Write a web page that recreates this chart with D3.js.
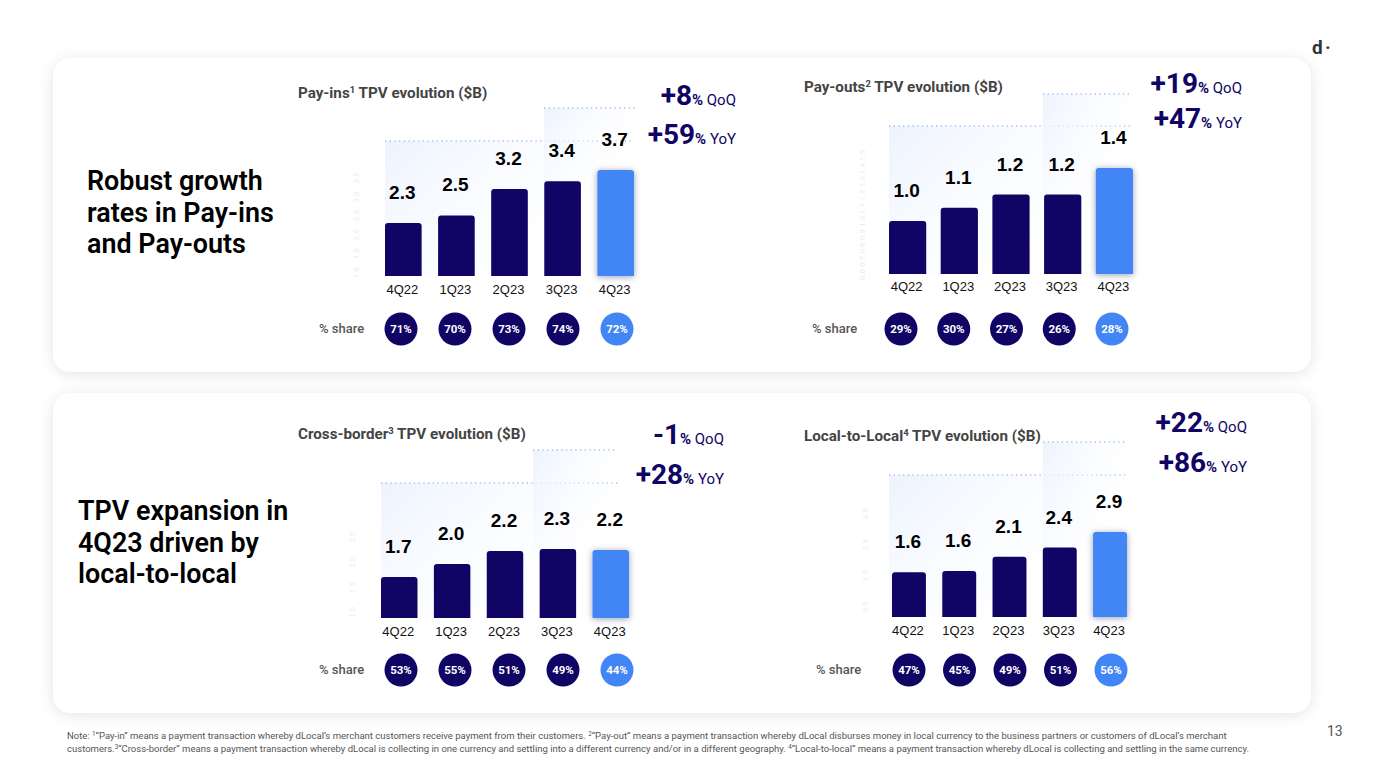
<!DOCTYPE html>
<html>
<head>
<meta charset="utf-8">
<script src="https://cdn.jsdelivr.net/npm/d3@7"></script>
<style>
  html, body { margin: 0; padding: 0; background: #fff; }
  svg { display: block; }
  text { font-family: Roboto, sans-serif; }
</style>
</head>
<body>
<svg width="1374" height="771"></svg>
<script>
const quarters = ["4Q22", "1Q23", "2Q23", "3Q23", "4Q23"];

// Bar values. Labels round them to one decimal
const payInsValues = [2.3, 2.5, 3.2, 3.4, 3.7];
const payOutsValues = [1.0, 1.1, 1.2, 1.2, 1.4];
const crossBorderValues = [1.70, 1.96, 2.22, 2.26, 2.24];
const localValues = [1.60, 1.64, 2.10, 2.40, 2.90];

const payInsShare = [71, 70, 73, 74, 72];
const payOutsShare = [29, 30, 27, 26, 28];
const crossBorderShare = [53, 55, 51, 49, 44];
const localShare = [47, 45, 49, 51, 56];

const payInsGrowth = ["+8", "+59"];
const payOutsGrowth = ["+19", "+47"];
const crossBorderGrowth = ["-1", "+28"];
const localGrowth = ["+22", "+86"];
const growthNames = ["QoQ", "YoY"];

// Faint axis ticks behind each chart
const payInsTicks = [1, 1.5, 2, 2.5, 3, 3.5];
const payOutsTicks = [0.6, 0.7, 0.8, 0.9, 1.0, 1.1, 1.2, 1.3, 1.4, 1.5];
const crossBorderTicks = [1.0, 1.5, 2.0, 2.5];
const localTicks = [0.5, 1.5, 2.5, 3.5];

const navy = "#100565";
const blue = "#4285f4";

const svg = d3.select("svg");
const defs = svg.append("defs");

const cardShadow = defs.append("filter").attr("id", "cardShadow")
    .attr("x", "-5%").attr("y", "-10%").attr("width", "110%").attr("height", "120%");
cardShadow.append("feDropShadow").attr("dx", 0).attr("dy", 2).attr("stdDeviation", 7)
    .attr("flood-color", "#000").attr("flood-opacity", 0.11);

const barShadow = defs.append("filter").attr("id", "barShadow")
    .attr("x", "-40%").attr("y", "-20%").attr("width", "180%").attr("height", "140%");
barShadow.append("feDropShadow").attr("dx", 0).attr("dy", 1).attr("stdDeviation", 3)
    .attr("flood-color", "#0d1b50").attr("flood-opacity", 0.4);

const fade = defs.append("linearGradient").attr("id", "fade")
    .attr("x1", 0).attr("y1", 0).attr("x2", 1).attr("y2", 0.6);
fade.append("stop").attr("offset", "0%").attr("stop-color", "#edf3fe");
fade.append("stop").attr("offset", "100%").attr("stop-color", "#ffffff").attr("stop-opacity", 0);

// White cards
svg.selectAll(".card")
    .data([[58, 314], [393, 320]])
    .enter().append("rect")
    .attr("class", "card")
    .attr("x", 53).attr("y", d => d[0])
    .attr("width", 1258).attr("height", d => d[1])
    .attr("rx", 18)
    .attr("fill", "#fff")
    .attr("filter", "url(#cardShadow)");

function drawPanel(p) {
    const g = svg.append("g");

    const x = d3.scaleBand().domain(quarters).range(p.xRange).paddingInner(p.inner);
    const y = d3.scaleLinear().domain(p.yDomain).range(p.yRange);
    const shareX = d3.scalePoint().domain(quarters).range(p.shareRange);

    // Shaded growth brackets with their dotted top lines
    p.brackets.forEach(b => {
        g.append("rect")
            .attr("x", b.x0).attr("y", b.y0)
            .attr("width", b.x1 - b.x0).attr("height", b.y1 - b.y0)
            .attr("fill", "url(#fade)");
        g.append("line")
            .attr("x1", b.x0).attr("x2", b.x1)
            .attr("y1", b.y0).attr("y2", b.y0)
            .attr("stroke", "#9fc0f0")
            .attr("stroke-width", 1.3)
            .attr("stroke-dasharray", "1.3 3.4");
    });

    // Nearly invisible y axis
    const axis = g.append("g")
        .attr("transform", `translate(${p.axisX},0)`)
        .call(d3.axisLeft(y).tickValues(p.ticks).tickSize(0).tickFormat(d3.format(".1f")));
    axis.select(".domain").remove();
    axis.selectAll("text")
        .attr("x", 0).attr("y", 0).attr("dy", "0.32em")
        .attr("text-anchor", "middle")
        .attr("transform", "rotate(-90)")
        .attr("fill", "#ececec")
        .style("font-size", "8px");

    // Bars, only the top corners are rounded
    const base = p.yRange[0];
    g.selectAll(".bar")
        .data(p.values)
        .enter().append("path")
        .attr("class", "bar")
        .attr("d", (d, i) => {
            const x0 = x(quarters[i]), w = x.bandwidth(), t = y(d), r = 3;
            return `M${x0},${base}V${t + r}Q${x0},${t} ${x0 + r},${t}H${x0 + w - r}Q${x0 + w},${t} ${x0 + w},${t + r}V${base}Z`;
        })
        .attr("fill", (d, i) => i === 4 ? blue : navy)
        .attr("filter", (d, i) => i === 4 ? "url(#barShadow)" : null);

    g.selectAll(".value")
        .data(p.values)
        .enter().append("text")
        .attr("class", "value")
        .attr("x", (d, i) => x(quarters[i]) + x.bandwidth() / 2 - 1)
        .attr("y", d => y(d) - 24)
        .attr("text-anchor", "middle")
        .style("font-family", "'Liberation Sans', Arial, sans-serif")
        .style("font-weight", 700)
        .style("font-size", "19px")
        .attr("fill", "#000")
        .text(d => d3.format(".1f")(d));

    g.selectAll(".quarter")
        .data(quarters)
        .enter().append("text")
        .attr("class", "quarter")
        .attr("x", d => x(d) + x.bandwidth() / 2 - 1)
        .attr("y", p.quarterY)
        .attr("text-anchor", "middle")
        .style("font-family", "'Liberation Sans', Arial, sans-serif")
        .style("font-size", "13px")
        .attr("fill", "#111")
        .text(d => d);

    // Title with footnote mark
    const title = g.append("text")
        .attr("x", p.titleX).attr("y", p.titleY)
        .style("font-size", "15.2px").style("font-weight", 700)
        .attr("fill", "#444");
    title.append("tspan").text(p.title);
    title.append("tspan").attr("dy", -5).style("font-size", "9.5px").text(p.mark);
    title.append("tspan").attr("dy", 5).text(" TPV evolution ($B)");

    // Share row
    g.append("text")
        .attr("x", p.shareLabelX).attr("y", p.shareY + 4)
        .style("font-size", "13px").style("font-weight", 500)
        .attr("fill", "#555")
        .text("% share");

    g.selectAll(".shareDot")
        .data(p.share)
        .enter().append("circle")
        .attr("class", "shareDot")
        .attr("cx", (d, i) => shareX(quarters[i]))
        .attr("cy", p.shareY)
        .attr("r", 16.5)
        .attr("fill", (d, i) => i === 4 ? blue : navy);

    g.selectAll(".shareText")
        .data(p.share)
        .enter().append("text")
        .attr("class", "shareText")
        .attr("x", (d, i) => shareX(quarters[i]))
        .attr("y", p.shareY + 4)
        .attr("text-anchor", "middle")
        .style("font-size", "11.5px").style("font-weight", 700)
        .attr("fill", "#fff")
        .text(d => d + "%");

    // QoQ and YoY callouts
    p.growth.forEach((v, i) => {
        const t = g.append("text")
            .attr("x", p.growthX).attr("y", p.growthY[i])
            .attr("text-anchor", "end")
            .attr("fill", navy);
        t.append("tspan").style("font-size", "28px").style("font-weight", 700).text(v);
        t.append("tspan").style("font-size", "15px").style("font-weight", 700).text("%");
        t.append("tspan").style("font-size", "15px").text(" " + growthNames[i]);
    });
}

drawPanel({
    title: "Pay-ins", mark: "1", titleX: 298, titleY: 98,
    values: payInsValues, share: payInsShare, growth: payInsGrowth, ticks: payInsTicks,
    xRange: [385, 634], inner: 0.31, yDomain: [0.9, 3.7], yRange: [276, 170],
    shareRange: [401, 617], shareY: 329, shareLabelX: 319,
    quarterY: 294, axisX: 356, growthX: 736, growthY: [105, 144],
    brackets: [{x0: 385, x1: 632, y0: 141, y1: 276}, {x0: 544, x1: 638, y0: 108, y1: 181}]
});

drawPanel({
    title: "Pay-outs", mark: "2", titleX: 804, titleY: 92,
    values: payOutsValues, share: payOutsShare, growth: payOutsGrowth, ticks: payOutsTicks,
    xRange: [889, 1133], inner: 0.28, yDomain: [0.6, 1.4], yRange: [274, 168],
    shareRange: [901, 1112], shareY: 329, shareLabelX: 812,
    quarterY: 291, axisX: 862, growthX: 1242, growthY: [93, 128],
    brackets: [{x0: 889, x1: 1133, y0: 126, y1: 274}, {x0: 1043, x1: 1131, y0: 94, y1: 195}]
});

drawPanel({
    title: "Cross-border", mark: "3", titleX: 298, titleY: 439,
    values: crossBorderValues, share: crossBorderShare, growth: crossBorderGrowth, ticks: crossBorderTicks,
    xRange: [381, 629], inner: 0.31, yDomain: [0.88, 2.26], yRange: [618, 549],
    shareRange: [401, 617], shareY: 670, shareLabelX: 319,
    quarterY: 636, axisX: 352, growthX: 724, growthY: [444, 484],
    brackets: [{x0: 381, x1: 620, y0: 483, y1: 618}, {x0: 533, x1: 616, y0: 450, y1: 550}]
});

drawPanel({
    title: "Local-to-Local", mark: "4", titleX: 804, titleY: 441,
    values: localValues, share: localShare, growth: localGrowth, ticks: localTicks,
    xRange: [892, 1127], inner: 0.325, yDomain: [0.16, 2.9], yRange: [617, 532],
    shareRange: [909, 1111], shareY: 670, shareLabelX: 816,
    quarterY: 635, axisX: 865, growthX: 1247, growthY: [432, 472],
    brackets: [{x0: 889, x1: 1125, y0: 475, y1: 617}, {x0: 1043, x1: 1127, y0: 442, y1: 549}]
});

// Left headlines
const headlines = [
    {x: 87, lines: ["Robust growth", "rates in Pay-ins", "and Pay-outs"], y: [190, 222, 253]},
    {x: 78, lines: ["TPV expansion in", "4Q23 driven by", "local-to-local"], y: [520, 552, 583]}
];
headlines.forEach(h => {
    svg.selectAll(null)
        .data(h.lines)
        .enter().append("text")
        .attr("x", h.x)
        .attr("y", (d, i) => h.y[i])
        .style("font-size", "26.9px").style("font-weight", 600)
        .attr("fill", "#000")
        .text(d => d);
});

// Footnote
const noteLines = [
    [["Note: "], ["1", 1], ["\u201CPay-in\u201D means a payment transaction whereby dLocal\u2019s merchant customers receive payment from their customers. "], ["2", 1], ["\u201CPay-out\u201D means a payment transaction whereby dLocal disburses money in local currency to the business partners or customers of dLocal\u2019s merchant"]],
    [["customers."], ["3", 1], ["\u201CCross-border\u201D means a payment transaction whereby dLocal is collecting in one currency and settling into a different currency and/or in a different geography. "], ["4", 1], ["\u201CLocal-to-local\u201D means a payment transaction whereby dLocal is collecting and settling in the same currency."]]
];
noteLines.forEach((line, i) => {
    const t = svg.append("text")
        .attr("x", 67).attr("y", 739 + i * 13)
        .style("font-size", "9.53px")
        .attr("fill", "#555");
    let up = false;
    line.forEach(part => {
        const isSup = part.length > 1;
        const span = t.append("tspan").text(part[0]);
        if (isSup) span.attr("dy", -3).style("font-size", "6.3px");
        else if (up) span.attr("dy", 3);
        up = isSup;
    });
});

// Logo and page number
svg.append("text").attr("x", 1312).attr("y", 54)
    .style("font-size", "19px").style("font-weight", 700).attr("fill", "#333").text("d");
svg.append("text").attr("x", 1325).attr("y", 54)
    .style("font-size", "19px").style("font-weight", 700).attr("fill", "#333").text("\u00B7");
svg.append("text").attr("x", 1327).attr("y", 736)
    .style("font-size", "14px").attr("fill", "#555").text("13");
</script>
</body>
</html>
